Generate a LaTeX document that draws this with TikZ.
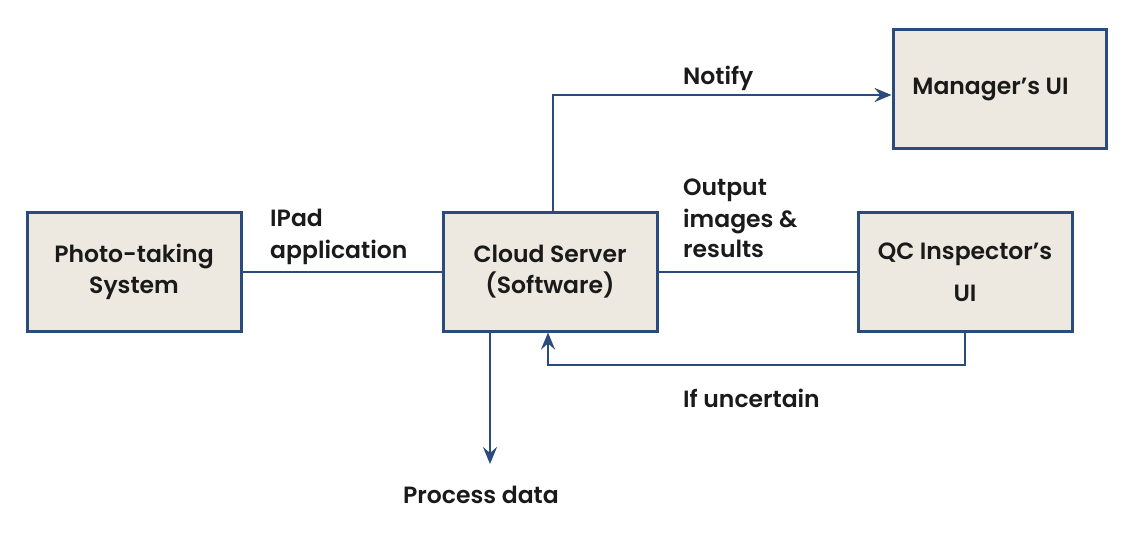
\documentclass[tikz,border=0pt]{standalone}
\usepackage{fontspec}
\setmainfont{Poppins SemiBold}
\usetikzlibrary{arrows.meta}
\definecolor{navy}{HTML}{2A4B7C}
\definecolor{beige}{HTML}{EDE9E0}
\definecolor{ink}{HTML}{1A1A1A}
\begin{document}
\begin{tikzpicture}[x=1pt,y=-1pt,
  box/.style={draw=navy,line width=3pt,fill=beige,minimum width=214pt,minimum height=118pt,
    align=center,text=ink,font=\fontsize{23.5}{31}\selectfont,inner sep=0pt},
  lbl/.style={anchor=base west,inner sep=0pt,text=ink,font=\fontsize{23.5}{30}\selectfont},
  conn/.style={draw=navy,line width=2.8pt},
  arr/.style={conn,-{Stealth[length=17pt,width=14pt,inset=6pt]}}]
\useasboundingbox[fill=white] (0,0) rectangle (1140,540);
\node[box] (photo) at (134,272) {Photo-taking\\System};
\node[box] (cloud) at (550,272) {Cloud Server\\(Software)};
\node[box,minimum width=213pt,minimum height=119pt] (mgr) at (999.5,89.5) {Manager’s UI\hspace*{18pt}};
\node[box,font=\fontsize{23.5}{42}\selectfont] (qc) at (965,272) {QC Inspector’s\\UI};
\coordinate (pd) at (490,464);
\coordinate (un) at (548,365);
\draw[conn] (photo.east) -- (cloud.west);
\draw[conn] (cloud.east) -- (qc.west);
\draw[arr] ([xshift=3pt]cloud.north) |- ([yshift=-5.5pt]mgr.west);
\draw[arr] (cloud.south -| pd) -- (pd);
\draw[arr] (qc.south) |- (un) -- (cloud.south -| un);
\node[lbl] (ipad) at (270,226) {IPad};
\node[lbl] (app) at (270,258) {application};
\node[lbl] (notify) at (683,85) {Notify};
\node[lbl] (out) at (683,196) {Output};
\node[lbl] (img) at (683,227) {images \&};
\node[lbl] (res) at (683,257) {results};
\node[lbl] (unc) at (683,407) {If uncertain};
\node[lbl] (proc) at (403,503) {Process data};
\end{tikzpicture}
\end{document}
